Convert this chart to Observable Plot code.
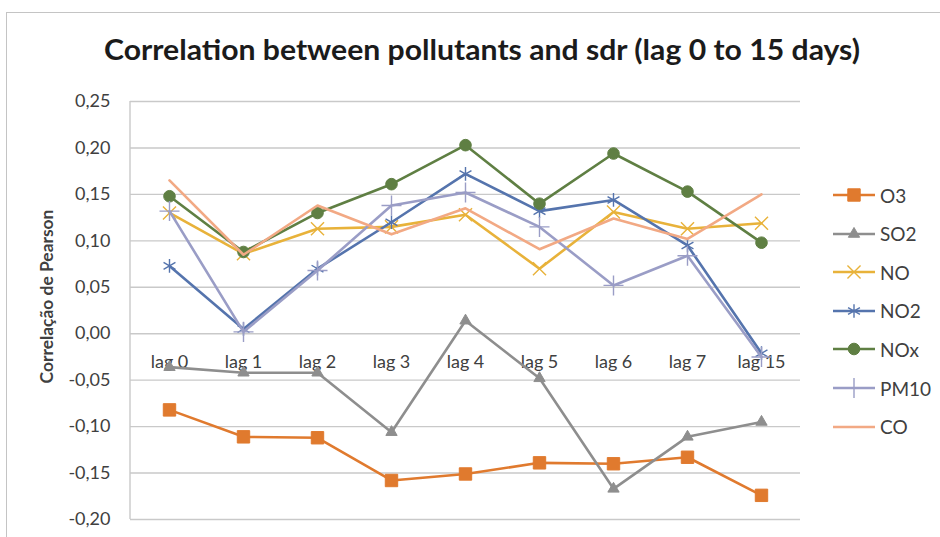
<!DOCTYPE html>
<html>
<head>
<meta charset="utf-8">
<script src="https://cdn.jsdelivr.net/npm/d3@7"></script>
<script src="https://cdn.jsdelivr.net/npm/@observablehq/plot@0.6"></script>
<style>
  html, body { margin: 0; padding: 0; background: #fff; }
  body { width: 940px; height: 537px; overflow: hidden; position: relative; font-family: Lato, "Open Sans", sans-serif; }
  #frame { position: absolute; left: 6px; top: 12px; width: 1000px; height: 1000px; border: 1px solid #c4c4c4; box-sizing: border-box; }
  #title { position: absolute; left: 0; top: 0; white-space: nowrap; font-weight: 700; font-size: 29px; color: #1b1b1b; line-height: 1; transform-origin: 0 0; }
  #chart { position: absolute; left: 0; top: 80px; }
  #legend { position: absolute; left: 0; top: 0; }
  .leg { position: absolute; display: flex; align-items: center; font-size: 19px; color: #404040; }
  .leg span { margin-left: 5px; }
</style>
</head>
<body>
<div id="frame"></div>
<div id="title">Correlation between pollutants and sdr (lag 0 to 15 days)</div>
<div id="chart"></div>
<div id="legend"></div>
<script>
// ---- data ----
const lags = ["lag 0", "lag 1", "lag 2", "lag 3", "lag 4", "lag 5", "lag 6", "lag 7", "lag 15"];
const O3   = [-0.082, -0.111, -0.112, -0.158, -0.151, -0.139, -0.140, -0.133, -0.174];
const SO2  = [-0.036, -0.042, -0.042, -0.106,  0.014, -0.048, -0.167, -0.111, -0.095];
const NO   = [ 0.130,  0.086,  0.113,  0.115,  0.128,  0.070,  0.131,  0.113,  0.119];
const NO2  = [ 0.073,  0.005,  0.070,  0.120,  0.172,  0.132,  0.144,  0.095, -0.021];
const NOx  = [ 0.148,  0.088,  0.130,  0.161,  0.203,  0.140,  0.194,  0.153,  0.098];
const PM10 = [ 0.132,  0.002,  0.068,  0.138,  0.152,  0.115,  0.052,  0.084, -0.025];
const CO   = [ 0.165,  0.085,  0.138,  0.107,  0.135,  0.091,  0.124,  0.102,  0.150];
const seriesNames = ["O3", "SO2", "NO", "NO2", "NOx", "PM10", "CO"];
const yTicks = [-0.20, -0.15, -0.10, -0.05, 0.00, 0.05, 0.10, 0.15, 0.20, 0.25];
const titleText = "Correlation between pollutants and sdr (lag 0 to 15 days)";
const yLabel = "Correlação de Pearson";

// ---- styles ----
const seriesValues = [O3, SO2, NO, NO2, NOx, PM10, CO];
const colors = ["#E07A2E", "#8E8E8E", "#E8B23A", "#5574AD", "#5F7F43", "#9A9DC6", "#F2A984"];
const markers = [
  {symbol: "square", r: 7, filled: true},
  {symbol: "triangle", r: 4.2, filled: true},
  {symbol: "times", r: 6, filled: false},
  {symbol: "asterisk", r: 6.5, filled: false},
  {symbol: "circle", r: 5.8, filled: true},
  {symbol: "plus", r: 6.5, filled: false},
  null
];

const series = seriesNames.map((name, i) => ({
  name, color: colors[i], marker: markers[i],
  rows: lags.map((lag, j) => ({lag, value: seriesValues[i][j]}))
}));

const fmt = d => d.toFixed(2).replace(".", ",");

const marks = [
  Plot.ruleY(yTicks, {stroke: "#c9c9c9", strokeWidth: 1.4}),
  Plot.axisY({ticks: yTicks, tickFormat: fmt, tickSize: 0, tickPadding: 20, fontSize: 18, fill: "#404040"}),
  Plot.text([yLabel], {frameAnchor: "left", textAnchor: "middle", dx: -83, dy: -14, rotate: -90, fontSize: 17, fontWeight: 700, fill: "#404040"}),
  Plot.text(lags, {x: d => d, y: () => 0, dy: 29, fontSize: 18, fill: "#404040"})
];

for (const s of series) {
  marks.push(Plot.line(s.rows, {x: "lag", y: "value", stroke: s.color, strokeWidth: 2.6}));
  if (s.marker) {
    const m = s.marker;
    marks.push(Plot.dot(s.rows, {
      x: "lag", y: "value", symbol: () => m.symbol, r: m.r,
      fill: m.filled ? s.color : "none",
      stroke: s.color, strokeWidth: m.filled ? 1 : 1.4
    }));
  }
}

const chart = Plot.plot({
  width: 940,
  height: 457,
  marginTop: 21,
  marginBottom: 18,
  marginLeft: 130,
  marginRight: 140,
  style: {fontFamily: "Lato, 'Open Sans', sans-serif", background: "transparent", overflow: "visible"},
  x: {type: "point", domain: lags, padding: 0.5, axis: null},
  y: {domain: [-0.2, 0.25], label: null},
  symbol: {type: "identity"},
  marks
});
document.getElementById("chart").appendChild(chart);

// left vertical axis line
const svg = d3.select(chart);
svg.append("line").attr("x1", 130).attr("x2", 130).attr("y1", 21).attr("y2", 439)
  .attr("stroke", "#c9c9c9").attr("stroke-width", 1.4).lower();

// fit the y-axis title to the reference length
for (const el of chart.querySelectorAll("text")) {
  if (el.textContent === yLabel) {
    const len = el.getComputedTextLength();
    if (len > 0) el.setAttribute("font-size", (17 * 174 / len).toFixed(2));
  }
}

// ---- title ----
const t = document.getElementById("title");
t.textContent = titleText;
const w = t.getBoundingClientRect().width;
t.style.transform = `scaleX(${756 / w})`;
t.style.left = "104px";
t.style.top = "34px";

// ---- legend ----
const legend = document.getElementById("legend");
const legY0 = 195, legStep = 38.6;
const symMap = {square: d3.symbolSquare, triangle: d3.symbolTriangle, times: d3.symbolTimes, asterisk: d3.symbolAsterisk, circle: d3.symbolCircle, plus: d3.symbolPlus};
series.forEach((s, i) => {
  const div = document.createElement("div");
  div.className = "leg";
  div.style.left = "833px";
  div.style.top = (legY0 + i * legStep - 11) + "px";
  div.style.height = "22px";
  let sym = "";
  if (s.marker) {
    const m = s.marker;
    const p = d3.symbol(symMap[m.symbol], Math.PI * m.r * m.r)();
    sym = `<path d="${p}" transform="translate(21,11)" fill="${m.filled ? s.color : "none"}" stroke="${s.color}" stroke-width="${m.filled ? 1 : 1.4}"/>`;
  }
  div.innerHTML = `<svg width="42" height="22"><line x1="0" x2="42" y1="11" y2="11" stroke="${s.color}" stroke-width="2.6"/>${sym}</svg><span>${s.name}</span>`;
  legend.appendChild(div);
});
</script>
</body>
</html>
